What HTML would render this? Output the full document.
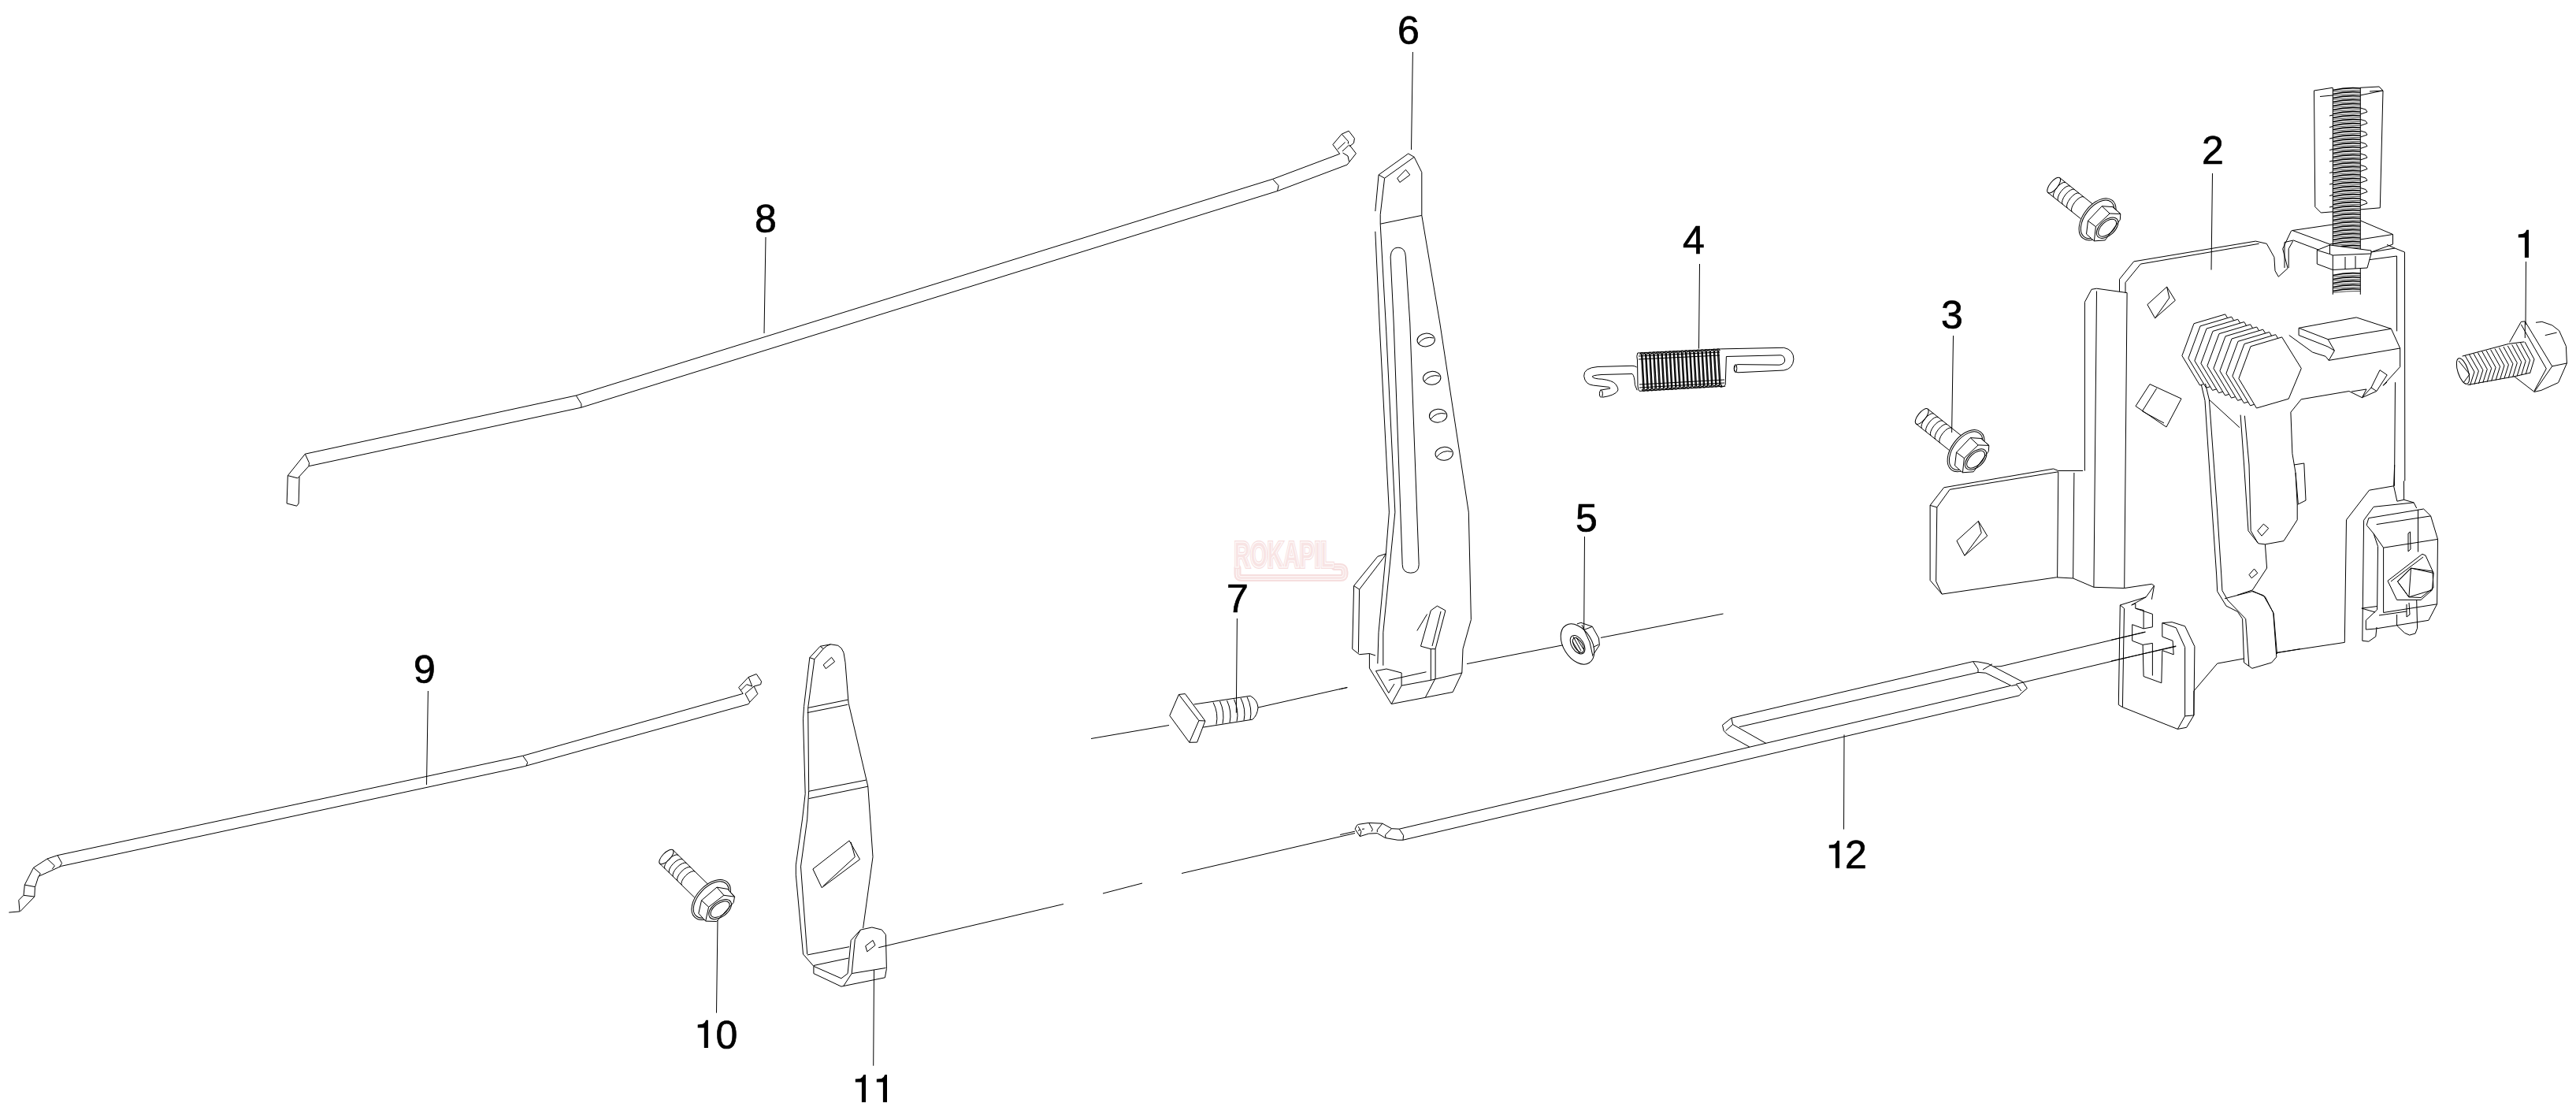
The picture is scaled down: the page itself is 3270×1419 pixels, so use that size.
<!DOCTYPE html>
<html><head><meta charset="utf-8"><style>
html,body{margin:0;padding:0;background:#fff;width:3270px;height:1419px;overflow:hidden}
svg{display:block}
</style></head><body>
<svg width="3270" height="1419" viewBox="0 0 3270 1419">
<g id="wm">
<path d="M1571,721 L1571,729 Q1571,733.5 1576,733.5 L1702,733.5 Q1707,733.5 1707,728.5 L1707,726 Q1707,719.5 1701,719.5 L1694,719.5" fill="none" stroke="#f6dede" stroke-width="9" stroke-linecap="round" stroke-linejoin="round"/>
<path d="M1571,721 L1571,729 Q1571,733.5 1576,733.5 L1702,733.5 Q1707,733.5 1707,728.5 L1707,726 Q1707,719.5 1701,719.5 L1694,719.5" fill="none" stroke="#fff" stroke-width="4.5" stroke-linecap="round" stroke-linejoin="round"/>
<path d="M1571,721 L1571,729 Q1571,733.5 1576,733.5 L1702,733.5 Q1707,733.5 1707,728.5 L1707,726 Q1707,719.5 1701,719.5 L1694,719.5" fill="none" stroke="#f8e6e6" stroke-width="3" stroke-linecap="round" stroke-linejoin="round"/>
<text x="1566.5" y="720" font-family="Liberation Sans" font-weight="bold" font-size="46" textLength="127" lengthAdjust="spacingAndGlyphs" fill="#f8e4e4" stroke="#f6dede" stroke-width="4" paint-order="stroke">ROKAPIL</text>
<text x="1566.5" y="720" font-family="Liberation Sans" font-weight="bold" font-size="46" textLength="127" lengthAdjust="spacingAndGlyphs" fill="#f8e4e4" stroke="#fff" stroke-width="1.2">ROKAPIL</text>
</g>
<g id="labels" font-family="Liberation Sans" font-size="50" fill="#000" stroke="#000" stroke-width="0.7">
<path stroke="none" d="M3196.8,297.5 L3203,296.8 Q3206.5,295 3207.3,291.8 L3210,291.8 L3210,327 L3204.9,327 L3204.9,301.5 L3196.8,301.5 Z"/>
<text x="2795" y="208">2</text>
<text x="2464" y="416.5">3</text>
<text x="2136" y="322">4</text>
<text x="2000" y="675">5</text>
<text x="1774" y="55.5">6</text>
<text x="1557" y="777">7</text>
<text x="958" y="295">8</text>
<text x="525" y="867">9</text>
<path stroke="none" d="M885.7,1300.4 L891.9,1299.7 Q895.4,1297.9 896.2,1294.7 L898.9,1294.7 L898.9,1329.9 L893.8,1329.9 L893.8,1304.4 L885.7,1304.4 Z"/>
<text x="908.4" y="1331">0</text>
<path stroke="none" d="M1085.8,1369.6 L1092,1368.9 Q1095.5,1367.1 1096.3,1363.9 L1099,1363.9 L1099,1399.1 L1093.9,1399.1 L1093.9,1373.6 L1085.8,1373.6 Z"/>
<path stroke="none" d="M1112.8,1369.6 L1119,1368.9 Q1122.5,1367.1 1123.3,1363.9 L1126,1363.9 L1126,1399.1 L1120.9,1399.1 L1120.9,1373.6 L1112.8,1373.6 Z"/>
<path stroke="none" d="M2321.8,1072.6 L2328,1071.9 Q2331.5,1070.1 2332.3,1066.9 L2335,1066.9 L2335,1101.7 L2329.9,1101.7 L2329.9,1076.6 L2321.8,1076.6 Z"/>
<text x="2342" y="1102">2</text>
</g>
<g id="leaders" stroke="#000" stroke-width="1" fill="none">
<path d="M3206.5,332 L3206,412.5 M2808.5,220 L2807,342.5 M2479.5,426 L2477.6,549 M2157.5,335 L2156.5,442.5 M2011.5,681 L2010.7,798.8 M1793.4,66 L1791.5,190 M1570.4,785 L1569.3,904.7 M972,301 L970,423 M543.4,877 L541.5,996 M911,1167.5 L909.5,1285.6 M1109.5,1231 L1108.7,1352.7 M2341,932.5 L2340.5,1052.6"/>
</g>
<g id="parts" stroke="#000" stroke-width="1" fill="none" stroke-linejoin="round">
<!-- rod 8 -->
<path d="M365.3,603.6 L387.3,576.2 L731.3,502 L1615.6,227.3 L1700.7,195.3"/>
<path d="M380,604.7 L391.9,591.7 L737.9,517.2 L1621.5,242.5 L1710.1,209.1"/>
<path d="M387.3,576.2 L392.5,587.6 L391.9,591.7 M731.3,502 L737.9,512.6 L737.9,517.2 M1615.6,227.3 L1623,235.6 L1621.5,242.5"/>
<path d="M365.3,603.6 L364.1,639 L376.7,642.2 L379.1,639 L380,604.7 M365.3,603.6 L377.8,606.9 L380,604.7"/>
<path d="M1700.7,195.3 L1691.9,183.5 L1703.2,170.2 L1712.1,166.2 L1719.4,175.6 L1718.5,181.5 L1713,186 M1703.2,170.2 L1711.6,179.5 L1711.3,182.5 M1713,184 L1721.4,194.8 L1710.1,209.1 M1698,189.5 L1707.5,180.5 M1704,192 L1712.5,184 M1704.5,194 L1711,198 L1712.5,205"/>
<!-- rod 9 -->
<path d="M11.3,1158.1 L25,1156.9 L23.8,1142.5 L30,1136.3 L31.3,1123.1 L42.5,1101.3 L60,1090 L73.1,1085.6 L663.7,959.3 L943.2,880.4"/>
<path d="M25.6,1156.9 L43.8,1138.1 L44.4,1126.3 L48.8,1112.5 L51.3,1111.3 L77.5,1099.4 L665.2,972.8 L950.2,893.6"/>
<path d="M73.1,1085.6 L78.5,1095.6 L75.6,1100.6 M60,1090 L69.4,1098.8 L66.3,1103.1 M42.5,1101.3 L51.3,1108.8 L49.5,1112 M31.3,1123.1 L44.4,1125.6 M30,1136.3 L43.8,1138.1 M663.7,959.3 L669.6,967.6 L668.3,972"/>
<path d="M943.2,880.4 L937.7,872.6 L950.2,859.4 L960.2,855.5 L966.5,864.8 L965.7,868.7 L957.1,871.1 L961.8,880.7 L951.7,891.2 L950.2,893.6 M950.2,859.4 L954.8,871.1 M940.5,876 L947.8,868.7 L954.8,871.1 M946,880.4 L957.1,871.1 M946,880.4 L951.7,891.2"/>
<!-- part 11 -->
<path d="M1041.1,820.3 L1054.5,817.8 M1027.8,834.7 L1041.1,820.3 L1045.2,823.4 L1033.9,836.7 Z M1045.2,823.4 Q1050,818.5 1054.5,817.8 L1063.8,819.3 Q1069,822 1071,828.5 L1073,840.8 L1077.1,892.3 L1101.8,998.2 L1108,1087.6 L1095.6,1178.1"/>
<path d="M1027.8,834.7 L1020.6,896.4 L1019.5,912.8 L1022.2,1007.4 L1018.5,1039.9 L1010.3,1097.9 L1010.3,1110.2 L1019.5,1211"/>
<path d="M1033.9,836.7 L1025.7,898.4 L1026.7,1003.3 L1024.7,1039.9 L1016.5,1099.9 L1024.7,1211"/>
<path d="M1025.7,898.4 L1076.5,888.1 M1024.7,904.6 L1076.1,894.3 M1026.7,1004.3 L1099.7,990 M1026.7,1013.6 L1101.8,998.2"/>
<path d="M1045.2,843.9 L1055.5,834.3 L1059.6,839.8 L1048.3,848.7 Z"/>
<path d="M1031.9,1103 L1078.1,1067 L1091.5,1090.7 L1043.2,1126.7 Z M1080.2,1069 L1085.3,1087.6 L1044.5,1125"/>
<path d="M1019.5,1211 L1032.9,1226.4 L1032.9,1235.6 L1067.9,1252.1 L1123.4,1240.8 L1125.4,1229.5 L1124.4,1186.3 L1119.3,1180.1 L1106.9,1177 L1092.5,1180.1 L1080.2,1193.5 L1076.1,1235.6 L1067.9,1241.8 L1032.9,1226.4"/>
<path d="M1024.7,1212 L1078.1,1201.7 M1032.9,1225.5 L1077.1,1216.1 M1092.5,1180.1 L1085.3,1192.5 L1081.2,1235.6 L1071,1251.1 M1081.2,1235.6 L1124.4,1228.5"/>
<path d="M1098.7,1200.7 L1108,1193.5 L1111,1199.7 L1100.8,1207.9 Z"/>
<!-- center dash lines -->
<path d="M1115.2,1202.7 L1350,1147.5 M1400,1134 L1450,1121 M1500,1108.5 L1720,1057.5"/>

<ellipse cx="902.7" cy="1142" rx="30.4" ry="18.3" transform="rotate(-46.8 902.7 1142)"/>
<ellipse cx="902.7" cy="1142" rx="28" ry="16" transform="rotate(-46.8 902.7 1142)"/>
<path d="M854.3,1078.9 L898.4,1122 M837.5,1096.1 L881.6,1139.1"/>
<ellipse cx="845.9" cy="1087.5" rx="12" ry="5" transform="rotate(-45.7 845.9 1087.5)"/>
<path d="M844.2,1102.7 A12,5 -45.7 0 1 861,1085.5 M849.7,1108 A12,5 -45.7 0 1 866.4,1090.8 M854.7,1112.9 A12,5 -45.7 0 1 871.5,1095.7 M860.1,1118.1 A12,5 -45.7 0 1 876.8,1100.9 M865.4,1123.3 A12,5 -45.7 0 1 882.2,1106.2"/>
<path fill="#fff" d="M890.5,1142.8 L910,1126.1 L923.6,1128.4 L932.5,1138.2 L931.2,1145.5 L909.6,1169.5 L895.7,1169.1 L886.8,1159.3 Z"/>
<path d="M910,1126.1 L918.9,1136.3 M923.6,1128.4 L932.5,1138.2 M890.5,1142.8 L899.6,1151.2 L918.9,1136.3 L932.5,1138.2"/><path d="M899.6,1151.2 L895.7,1169.1"/>
<ellipse cx="914.1" cy="1154.1" rx="16.5" ry="9.5" transform="rotate(-37.2 914.1 1154.1)"/>
<ellipse cx="914.1" cy="1154.1" rx="14" ry="7.5" transform="rotate(-37.2 914.1 1154.1)"/>
<ellipse cx="2662.6" cy="278.3" rx="30.4" ry="18.3" transform="rotate(-52.6 2662.6 278.3)"/>
<ellipse cx="2662.6" cy="278.3" rx="28" ry="16" transform="rotate(-52.6 2662.6 278.3)"/>
<path d="M2614.7,225.7 L2656.2,258.8 M2599.7,244.5 L2641.3,277.6"/>
<ellipse cx="2607.2" cy="235.1" rx="12" ry="5" transform="rotate(-51.5 2607.2 235.1)"/>
<path d="M2607.1,250.3 A12,5 -51.5 0 1 2622,231.6 M2613,255.1 A12,5 -51.5 0 1 2628,236.3 M2618.5,259.4 A12,5 -51.5 0 1 2633.5,240.6 M2624.4,264.1 A12,5 -51.5 0 1 2639.3,245.3 M2630.3,268.8 A12,5 -51.5 0 1 2645.2,250"/>
<path fill="#fff" d="M2650.5,280.3 L2668.2,261.7 L2682,262.6 L2691.8,271.5 L2691.3,278.9 L2672.2,304.9 L2658.4,305.9 L2648.5,297.1 Z"/>
<path d="M2668.2,261.7 L2678.1,271 M2682,262.6 L2691.8,271.5 M2650.5,280.3 L2660.4,287.7 L2678.1,271 L2691.8,271.5"/><path d="M2660.4,287.7 L2658.4,305.9"/>
<ellipse cx="2675.1" cy="289.2" rx="16.5" ry="9.5" transform="rotate(-43 2675.1 289.2)"/>
<ellipse cx="2675.1" cy="289.2" rx="14" ry="7.5" transform="rotate(-43 2675.1 289.2)"/>
<ellipse cx="2495.6" cy="572.2" rx="30.4" ry="18.3" transform="rotate(-52.6 2495.6 572.2)"/>
<ellipse cx="2495.6" cy="572.2" rx="28" ry="16" transform="rotate(-52.6 2495.6 572.2)"/>
<path d="M2447.2,519.1 L2489.3,552.7 M2432.2,537.9 L2474.3,571.4"/>
<ellipse cx="2439.7" cy="528.5" rx="12" ry="5" transform="rotate(-51.5 2439.7 528.5)"/>
<path d="M2439.6,543.7 A12,5 -51.5 0 1 2454.5,525 M2445.5,548.5 A12,5 -51.5 0 1 2460.5,529.7 M2451,552.8 A12,5 -51.5 0 1 2465.9,534.1 M2456.9,557.5 A12,5 -51.5 0 1 2471.8,538.7 M2462.7,562.2 A12,5 -51.5 0 1 2477.7,543.4"/>
<path fill="#fff" d="M2483.5,574.2 L2501.2,555.6 L2515,556.5 L2524.8,565.4 L2524.3,572.8 L2505.2,598.8 L2491.4,599.8 L2481.5,591 Z"/>
<path d="M2501.2,555.6 L2511.1,564.9 M2515,556.5 L2524.8,565.4 M2483.5,574.2 L2493.4,581.6 L2511.1,564.9 L2524.8,565.4"/><path d="M2493.4,581.6 L2491.4,599.8"/>
<ellipse cx="2508.1" cy="583.1" rx="16.5" ry="9.5" transform="rotate(-43 2508.1 583.1)"/>
<ellipse cx="2508.1" cy="583.1" rx="14" ry="7.5" transform="rotate(-43 2508.1 583.1)"/>
<!-- bolt 7 -->
<path d="M1484.8,908.3 L1496.4,881.5 L1521.9,914.6 L1509.8,942.3 Z M1496.4,881.5 L1504.4,880.6 L1529.9,915 L1519.6,942.1 L1509.8,942.3 M1521.9,914.6 L1529.9,915"/>
<path d="M1515.6,894 L1587.2,883.3 M1527.2,923.1 L1589.9,913.2 M1587.2,883.3 Q1596,888 1597,898 Q1596,908 1589.9,913.2"/>
<path d="M1540,891.5 Q1547,905 1544,919.5 M1548.5,890 Q1555,904 1552,918.5 M1557.5,889 Q1564,903 1561,917 M1566.5,887.5 Q1573,902 1570,915.5 M1575,886 Q1582,900 1579,914.5 M1583,884.5 Q1590,899 1587,913.5"/>
<!-- lever 6 -->
<path d="M1750.1,221.9 L1787.7,195 L1795.2,199.3 L1757.6,226.2 Z M1795.2,199.3 L1804.8,218.7 L1804.8,273.4 L1827.8,410 L1864.3,650.1 L1867.4,786.5 L1857,823.7 L1855.8,854"/>
<path d="M1750.1,221.9 L1745.8,268.1 M1745.8,293.8 L1751.1,410 L1763.4,650.1 L1759.3,702.8 L1750,802.8 L1748.8,842.3"/>
<path d="M1757.6,226.2 L1752.2,272.4 L1752.2,284.2 L1759.7,420.1 L1770.9,650.1 L1755.8,802.8 L1755.8,844.7"/>
<path d="M1752.2,284.2 L1804.8,273.4"/>
<path d="M1765.1,326 Q1766,314.2 1774.8,314.2 Q1784,314.2 1784.4,326 L1789.8,410 L1801.2,716.7 Q1801,727.2 1790.7,727.2 Q1780.5,727 1780.2,716.7 L1769.2,410 Z"/>
<path d="M1773.7,226.2 L1784.4,215.4 L1789.8,221.9 L1776.9,231.5 Z"/>
<ellipse cx="1810.2" cy="431.5" rx="11.2" ry="8.4" transform="rotate(-5 1810.2 431.5)"/>
<ellipse cx="1817.7" cy="479.8" rx="11.2" ry="8.4" transform="rotate(-5 1817.7 479.8)"/>
<ellipse cx="1825.6" cy="527.7" rx="11.2" ry="8.4" transform="rotate(-5 1825.6 527.7)"/>
<ellipse cx="1833.2" cy="575.8" rx="11.2" ry="8.4" transform="rotate(-5 1833.2 575.8)"/>
<path d="M1800.5,436 Q1808,426 1820,429 M1808,484.3 Q1815.5,474.3 1827.5,477.3 M1816,532.2 Q1823.5,522.2 1835.5,525.2 M1823.5,580.3 Q1831,570.3 1843,573.3"/>
<path d="M1718.6,743.5 L1748.8,706.3 L1759.3,702.8 L1755.8,708.6 L1725.6,748.1 Z M1718.6,743.5 L1716.7,823.7 L1725.6,830.7 L1738.4,829.5 L1746,832 M1725.6,748.1 L1724.4,828.4"/>
<path d="M1738.4,829.5 L1738.4,848.1 L1766.3,893.5 L1779.1,870.2 L1779.1,854 M1746.5,851.6 L1762.8,879.5 L1770,868 M1746.5,851.6 L1760,849 L1779.1,854 M1779.1,870.2 L1816.3,863.3 L1855.8,854 L1844.2,878.4 L1809.3,885.3 L1766.3,893.5"/>
<path d="M1816.3,774.9 L1824.4,769.1 L1834.9,774.9 L1822.1,823.7 L1822.1,860.9 L1809.3,885.3 M1816.3,774.9 L1803.5,820.2 L1816.3,823.7 L1816.3,863.3 M1822.1,823.7 L1816.3,823.7 M1798.8,800.5 L1811.6,779.5 M1829,776 L1818,820"/>
<path d="M1700,874.9 L1710.5,872.6 M1762.8,863.3 L1810.5,852.8 M1862,842.6 L1984,818.8 M2032,809.4 L2187.5,779"/>
<path d="M1385,937.5 L1484,920.5 M1597,898 L1710,872.5"/>
<!-- nut 5 -->
<ellipse cx="2002.5" cy="817.5" rx="28" ry="18" transform="rotate(58 2002.5 817.5)"/>
<path d="M2001.9,791.9 L2006.9,790.3 L2021.3,795.3 L2029.5,810 L2030.4,818.8 L2022.6,830.7 M2010.7,799.4 L2021.3,795.3 M2022.6,821.3 L2029.5,818 M2008,793 L2018,815 L2022,833"/>
<ellipse cx="2002.6" cy="818.2" rx="13" ry="7.5" transform="rotate(58 2002.6 818.2)"/>
<ellipse cx="2003.5" cy="818.8" rx="10.5" ry="5.2" transform="rotate(58 2003.5 818.8)"/><path d="M1997,808 L2007,826 M2001,809 L2010,824 M1996,814 L2005,829"/>

<!-- spring 4 -->
<path d="M2078.8,448 L2184.6,442.9 M2081.1,496.4 L2190.2,490.2 M2078.8,448 Q2077,452 2078.5,457 L2079,490 Q2079.5,495 2081.1,496.4"/>
<path d="M2077.7,466 Q2075,464.3 2072,464.3 L2028.1,465.5 Q2010,467 2010.7,477.3 Q2012,488 2022.5,489.1 L2042.8,491.4 L2044,493 L2031,495.3"/>
<path d="M2072,474.5 L2033,475.5 Q2020,476.5 2021.4,478.4 Q2024,481 2033.8,481.2 Q2047,483 2050.7,487.4 Q2055,493 2053.5,496 Q2050,502 2033.8,504.3"/>
<ellipse cx="2032.4" cy="499.8" rx="2" ry="4.5"/>
<path d="M2072,474.5 Q2075,477 2075.4,488.5 L2078.2,495.3"/>
<path d="M2184.6,442.9 L2264.5,441.3 Q2277,444 2276.9,455.9 Q2276,468 2264.5,470 L2206,472.8 Q2201.5,472 2201.5,468.3 Q2202,463 2206,462.6 L2258.9,463.2 Q2265.7,462 2265.7,457 Q2265,451 2260,450.8 L2191.4,452.5 L2190.2,488.5 Q2189,491 2184,491.5"/>
<path stroke-width="1.2" d="M2083.4,448.9 L2086.0,495.2 M2084.8,449.4 L2087.3,494.7 M2081.6,449.9 Q2084.1,445.4 2086.6,449.9 M2084.2,494.2 Q2086.7,498.7 2089.2,494.2 M2088.5,448.6 L2091.1,494.9 M2089.8,449.1 L2092.4,494.4 M2086.7,449.6 Q2089.2,445.1 2091.7,449.6 M2089.2,493.9 Q2091.8,498.4 2094.2,493.9 M2093.6,448.4 L2096.2,494.6 M2094.9,448.9 L2097.5,494.1 M2091.8,449.4 Q2094.2,444.9 2096.8,449.4 M2094.3,493.6 Q2096.8,498.1 2099.3,493.6 M2098.7,448.1 L2101.2,494.3 M2100.0,448.6 L2102.6,493.8 M2096.8,449.1 Q2099.3,444.6 2101.8,449.1 M2099.4,493.3 Q2101.9,497.8 2104.4,493.3 M2103.8,447.9 L2106.3,494.0 M2105.1,448.4 L2107.7,493.5 M2101.9,448.9 Q2104.4,444.4 2106.9,448.9 M2104.5,493.0 Q2107.0,497.5 2109.5,493.0 M2108.9,447.6 L2111.5,493.7 M2110.2,448.1 L2112.8,493.2 M2107.1,448.6 Q2109.6,444.1 2112.1,448.6 M2109.7,492.7 Q2112.2,497.2 2114.7,492.7 M2114.0,447.3 L2116.6,493.4 M2115.3,447.8 L2117.9,492.9 M2112.2,448.3 Q2114.7,443.8 2117.2,448.3 M2114.8,492.4 Q2117.2,496.9 2119.8,492.4 M2119.1,447.1 L2121.7,493.1 M2120.4,447.6 L2123.0,492.6 M2117.2,448.1 Q2119.8,443.6 2122.2,448.1 M2119.8,492.1 Q2122.3,496.6 2124.8,492.1 M2124.2,446.8 L2126.8,492.8 M2125.5,447.3 L2128.1,492.3 M2122.3,447.8 Q2124.8,443.3 2127.3,447.8 M2124.9,491.8 Q2127.4,496.3 2129.9,491.8 M2129.2,446.6 L2131.8,492.5 M2130.6,447.1 L2133.2,492.0 M2127.4,447.6 Q2129.9,443.1 2132.4,447.6 M2130.0,491.5 Q2132.5,496.0 2135.0,491.5 M2134.4,446.3 L2137.0,492.1 M2135.8,446.8 L2138.3,491.6 M2132.6,447.3 Q2135.1,442.8 2137.6,447.3 M2135.2,491.1 Q2137.7,495.6 2140.2,491.1 M2139.5,446.1 L2142.1,491.8 M2140.8,446.6 L2143.4,491.3 M2137.7,447.1 Q2140.2,442.6 2142.7,447.1 M2140.2,490.8 Q2142.8,495.3 2145.2,490.8 M2144.6,445.8 L2147.2,491.5 M2145.9,446.3 L2148.5,491.0 M2142.8,446.8 Q2145.2,442.3 2147.8,446.8 M2145.3,490.5 Q2147.8,495.0 2150.3,490.5 M2149.7,445.6 L2152.2,491.2 M2151.0,446.1 L2153.6,490.7 M2147.8,446.6 Q2150.3,442.1 2152.8,446.6 M2150.4,490.2 Q2152.9,494.7 2155.4,490.2 M2154.8,445.3 L2157.3,490.9 M2156.1,445.8 L2158.7,490.4 M2152.9,446.3 Q2155.4,441.8 2157.9,446.3 M2155.5,489.9 Q2158.0,494.4 2160.5,489.9 M2159.9,445.0 L2162.5,490.6 M2161.2,445.5 L2163.8,490.1 M2158.1,446.0 Q2160.6,441.5 2163.1,446.0 M2160.7,489.6 Q2163.2,494.1 2165.7,489.6 M2165.0,444.8 L2167.6,490.3 M2166.3,445.3 L2168.9,489.8 M2163.2,445.8 Q2165.7,441.3 2168.2,445.8 M2165.8,489.3 Q2168.2,493.8 2170.8,489.3 M2170.1,444.5 L2172.7,490.0 M2171.4,445.0 L2174.0,489.5 M2168.2,445.5 Q2170.8,441.0 2173.2,445.5 M2170.8,489.0 Q2173.3,493.5 2175.8,489.0 M2175.2,444.3 L2177.8,489.7 M2176.5,444.8 L2179.1,489.2 M2173.3,445.3 Q2175.8,440.8 2178.3,445.3 M2175.9,488.7 Q2178.4,493.2 2180.9,488.7 M2180.2,444.0 L2182.8,489.4 M2181.6,444.5 L2184.2,488.9 M2178.4,445.0 Q2180.9,440.5 2183.4,445.0 M2181.0,488.4 Q2183.5,492.9 2186.0,488.4"/>
<path d="M2080,452 L2183,447 M2081,492 L2189,486 M2080,456 L2183,451 M2081,488 L2189,482"/>
<ellipse cx="2203" cy="467.6" rx="1.8" ry="5"/>

<!-- rod 12 -->
<path d="M1720.1,1052.2 L1722.5,1047.4 L1724.7,1046.3 L1737.6,1044.4 L1754.8,1045.2 L1766.6,1051.7 L1776.2,1052.2 L2180,957.8 L2551.8,870.5"/>
<path d="M1720.1,1052.2 L1726.3,1061.6 L1737.6,1058.1 L1748.3,1057.6 L1758.5,1063.5 L1774.1,1066.2 L1781,1066.2 L2237,959.4 L2563.2,882.8"/>
<path d="M1737.6,1044.4 L1742.4,1052.7 L1741,1055.5 M1754.8,1045.2 L1748.3,1053.3 L1748.3,1056 M1766.6,1051.7 L1758.5,1059.7 L1759,1063.5 M1776.2,1052.2 L1781.6,1060.3 L1781,1066.2 M1724.2,1049 L1727.9,1055.4 L1726.3,1061.6 M1724,1054.5 L1726.5,1053 M1729,1052.4 L1732,1052"/>
<path d="M1701.1,1059.5 L1719.9,1055.2"/>
<path d="M2197.9,911.3 L2504.5,839.6 L2511,840 L2524,842.5 M2207.7,922.7 L2511,853.4 L2520.8,854.2"/>
<path d="M2197.9,911.3 L2186.5,920.3 L2188.2,927.6 L2193,932.5 L2220.8,948 M2197.9,911.3 L2199.6,919.5 L2190.6,927.6 M2199.6,919.5 L2242,943.6"/>
<path d="M2504.5,839.6 L2511,849.3 L2511,853.4 M2524,842.5 L2530.6,846.1 L2568,865.7 L2573.3,873.6 L2565.8,880 L2563.2,882.8 M2517,850 L2528.9,842.8 M2520.8,854.2 L2553.4,870.5 L2560,869 L2565.8,877"/>
<path d="M2540,845.7 L2723.5,802.2 M2559.3,868.2 L2762.2,819.9 M2530.6,846.1 L2540,845.7"/>
<!-- bolt 1 -->
<path d="M3200.3,408.4 L3185.6,434.4 M3191.5,477.7 L3217.1,497.4 L3225.9,495.4 L3247.6,485.6 L3258.4,461 L3257.4,439.4 L3248.6,419.7 L3239.7,412.8 L3226.9,408.4 L3219,409.3 M3200.3,408.4 L3205.3,407.9"/>
<path d="M3205.3,407.9 L3239.7,464.9 L3217.1,497.4 M3200.3,411.8 L3232.3,467.9 L3217.1,496 M3239.7,464.9 L3258.4,461 M3230.8,425.6 L3245.6,422.1 M3205.3,408 L3205.3,429"/>
<path d="M3125.6,452.1 L3184.6,436.4 L3204.3,433.9 M3132.5,488.5 L3192.5,477.7 L3211.2,473.3"/>
<ellipse cx="3126.5" cy="471" rx="17" ry="6.5" transform="rotate(72 3126.5 471)"/>
<path d="M3121,458 L3135,475 L3127,486"/>
<path d="M3129.0,451.0 L3141.0,472.0 L3135.5,489.0 M3134.4,449.8 L3146.4,470.9 L3140.9,487.9 M3139.9,448.6 L3151.9,469.7 L3146.4,486.9 M3145.3,447.4 L3157.3,468.6 L3151.8,485.8 M3150.7,446.1 L3162.7,467.4 L3157.2,484.7 M3156.1,444.9 L3168.1,466.3 L3162.6,483.6 M3161.6,443.7 L3173.6,465.1 L3168.1,482.6 M3167.0,442.5 L3179.0,464.0 L3173.5,481.5 M3172.4,441.3 L3184.4,462.9 L3178.9,480.4 M3177.9,440.1 L3189.9,461.7 L3184.4,479.4 M3183.3,438.9 L3195.3,460.6 L3189.8,478.3 M3188.7,437.6 L3200.7,459.4 L3195.2,477.2 M3194.1,436.4 L3206.1,458.3 L3200.6,476.1 M3199.6,435.2 L3211.6,457.1 L3206.1,475.1 M3205.0,434.0 L3217.0,456.0 L3211.5,474.0"/>

<!-- part 2 plate -->
<path d="M2690.5,370 L2690.5,354.4 L2708.7,331.9 L2863.3,306.1 L2877.3,309.3 L2886.9,326.5 L2888,343.7 L2892.3,351.2 L2904.1,340.5 L2897.7,315.8 L2908.4,293.2 L2910,292.5"/>
<path d="M2698,372 L2698,358.7 L2717.3,335.1 L2867.6,309.3 M2905.2,315.8 L2905.2,340 M2910.6,306.1 L2905.2,315.8"/>
<path d="M2646.4,597.5 L2646.4,383.4 L2655,367.3 L2661.5,366.2 L2700.1,371.6 M2661.5,369.5 L2657.9,745.3 M2700.1,371.6 L2696.7,746.5"/>
<path d="M2644.1,597.5 L2612.8,597.5 L2606.6,595 L2467.6,618.8 L2450.1,641.4 L2450.1,736.5 L2465.1,754.1 L2610.3,732.8 L2631.6,734 L2657.9,745.3 L2696.7,746.5 L2731.4,741.3 L2734.5,743.4"/>
<path d="M2450.1,641.4 L2458.8,643.9 L2475.1,621.3 L2612.8,598.8 M2458.8,643.9 L2457.6,737.8 L2465.1,754.1 M2612.8,598.8 L2611.6,732.8 M2632.9,600 L2631.6,734"/>
<path d="M2483.9,686.4 L2511.4,661.4 L2522.7,680.2 L2493.9,705.2 Z M2511.4,661.4 L2515.2,676.4 L2493.9,705.2"/>
<path d="M2725.9,386.6 L2750.6,364.1 L2761.3,381.3 L2735.6,403.8 Z M2750.6,364.1 L2753.8,378 L2735.6,403.8"/>
<path d="M2711,515.5 L2729,487.6 L2769,506 L2750,542 Z M2737.7,492.9 L2719.4,521.9 L2747,537"/>
<!-- screw assembly -->
<path d="M2937.5,115 L2938.8,262.5 L2946.3,270 L3021.3,263.8 L3025,115 L3020,110 L2996,111.3 M2937.5,115 L2961,111.3 M2945,122.5 L2961,121 M2996,121 L3025,115 M3008,116 L3025,115"/>
<path d="M2910,292.5 L2961.3,285 M2996.3,280 L3037.5,297.5 L3037.5,310 M2910,292.5 L2957.5,310 L3037.5,297.5 M2957.5,310 L2957.5,322.5 M2900,307.5 L2911.3,305 L2957.5,322.5 M2900,307.5 L2900,340"/>
<path d="M3010,320 L3037.5,310"/>
<path d="M3010,320 L3040,315 L3052.5,320 L3052.8,610.4 M3005,330 L3042.5,325 L3042.6,420.4 M3040.5,485.2 L3039.5,616.8 M3030,310.5 L3040,315"/>
<rect x="2961.3" y="111.3" width="35" height="262.5" fill="#fff" stroke="none"/>
<path stroke-width="1.7" d="M2961.3,114.5 Q2978.8,110.5 2996.3,112.0 M2961.3,119.5 Q2978.8,115.5 2996.3,117.0 M2961.3,124.5 Q2978.8,120.5 2996.3,122.0 M2961.3,129.5 Q2978.8,125.5 2996.3,127.0 M2961.3,134.5 Q2978.8,130.5 2996.3,132.0 M2961.3,139.5 Q2978.8,135.5 2996.3,137.0 M2961.3,144.5 Q2978.8,140.5 2996.3,142.0 M2961.3,149.5 Q2978.8,145.5 2996.3,147.0 M2961.3,154.5 Q2978.8,150.5 2996.3,152.0 M2961.3,159.5 Q2978.8,155.5 2996.3,157.0 M2961.3,164.5 Q2978.8,160.5 2996.3,162.0 M2961.3,169.5 Q2978.8,165.5 2996.3,167.0 M2961.3,174.5 Q2978.8,170.5 2996.3,172.0 M2961.3,179.5 Q2978.8,175.5 2996.3,177.0 M2961.3,184.5 Q2978.8,180.5 2996.3,182.0 M2961.3,189.5 Q2978.8,185.5 2996.3,187.0 M2961.3,194.5 Q2978.8,190.5 2996.3,192.0 M2961.3,199.5 Q2978.8,195.5 2996.3,197.0 M2961.3,204.5 Q2978.8,200.5 2996.3,202.0 M2961.3,209.5 Q2978.8,205.5 2996.3,207.0 M2961.3,214.5 Q2978.8,210.5 2996.3,212.0 M2961.3,219.5 Q2978.8,215.5 2996.3,217.0 M2961.3,224.5 Q2978.8,220.5 2996.3,222.0 M2961.3,229.5 Q2978.8,225.5 2996.3,227.0 M2961.3,234.5 Q2978.8,230.5 2996.3,232.0 M2961.3,239.5 Q2978.8,235.5 2996.3,237.0 M2961.3,244.5 Q2978.8,240.5 2996.3,242.0 M2961.3,249.5 Q2978.8,245.5 2996.3,247.0 M2961.3,254.5 Q2978.8,250.5 2996.3,252.0 M2961.3,259.5 Q2978.8,255.5 2996.3,257.0 M2961.3,264.5 Q2978.8,260.5 2996.3,262.0 M2961.3,269.5 Q2978.8,265.5 2996.3,267.0 M2961.3,274.5 Q2978.8,270.5 2996.3,272.0 M2961.3,279.5 Q2978.8,275.5 2996.3,277.0 M2961.3,284.5 Q2978.8,280.5 2996.3,282.0 M2961.3,289.5 Q2978.8,285.5 2996.3,287.0 M2961.3,294.5 Q2978.8,290.5 2996.3,292.0 M2961.3,299.5 Q2978.8,295.5 2996.3,297.0 M2961.3,304.5 Q2978.8,300.5 2996.3,302.0 M2961.3,309.5 Q2978.8,305.5 2996.3,307.0 M2961.3,314.5 Q2978.8,310.5 2996.3,312.0 M2961.3,319.5 Q2978.8,315.5 2996.3,317.0 M2961.3,324.5 Q2978.8,320.5 2996.3,322.0 M2961.3,329.5 Q2978.8,325.5 2996.3,327.0 M2961.3,334.5 Q2978.8,330.5 2996.3,332.0 M2961.3,339.5 Q2978.8,335.5 2996.3,337.0 M2961.3,349.5 Q2978.8,345.5 2996.3,347.0 M2961.3,354.5 Q2978.8,350.5 2996.3,352.0 M2961.3,359.5 Q2978.8,355.5 2996.3,357.0 M2961.3,364.5 Q2978.8,360.5 2996.3,362.0 M2961.3,369.5 Q2978.8,365.5 2996.3,367.0"/><path stroke-width="0.7" d="M2961.3,116.4 Q2978.8,114.4 2996.3,114.4 M2961.3,121.4 Q2978.8,119.4 2996.3,119.4 M2961.3,126.4 Q2978.8,124.4 2996.3,124.4 M2961.3,131.4 Q2978.8,129.4 2996.3,129.4 M2961.3,136.4 Q2978.8,134.4 2996.3,134.4 M2961.3,141.4 Q2978.8,139.4 2996.3,139.4 M2961.3,146.4 Q2978.8,144.4 2996.3,144.4 M2961.3,151.4 Q2978.8,149.4 2996.3,149.4 M2961.3,156.4 Q2978.8,154.4 2996.3,154.4 M2961.3,161.4 Q2978.8,159.4 2996.3,159.4 M2961.3,166.4 Q2978.8,164.4 2996.3,164.4 M2961.3,171.4 Q2978.8,169.4 2996.3,169.4 M2961.3,176.4 Q2978.8,174.4 2996.3,174.4 M2961.3,181.4 Q2978.8,179.4 2996.3,179.4 M2961.3,186.4 Q2978.8,184.4 2996.3,184.4 M2961.3,191.4 Q2978.8,189.4 2996.3,189.4 M2961.3,196.4 Q2978.8,194.4 2996.3,194.4 M2961.3,201.4 Q2978.8,199.4 2996.3,199.4 M2961.3,206.4 Q2978.8,204.4 2996.3,204.4 M2961.3,211.4 Q2978.8,209.4 2996.3,209.4 M2961.3,216.4 Q2978.8,214.4 2996.3,214.4 M2961.3,221.4 Q2978.8,219.4 2996.3,219.4 M2961.3,226.4 Q2978.8,224.4 2996.3,224.4 M2961.3,231.4 Q2978.8,229.4 2996.3,229.4 M2961.3,236.4 Q2978.8,234.4 2996.3,234.4 M2961.3,241.4 Q2978.8,239.4 2996.3,239.4 M2961.3,246.4 Q2978.8,244.4 2996.3,244.4 M2961.3,251.4 Q2978.8,249.4 2996.3,249.4 M2961.3,256.4 Q2978.8,254.4 2996.3,254.4 M2961.3,261.4 Q2978.8,259.4 2996.3,259.4 M2961.3,266.4 Q2978.8,264.4 2996.3,264.4 M2961.3,271.4 Q2978.8,269.4 2996.3,269.4 M2961.3,276.4 Q2978.8,274.4 2996.3,274.4 M2961.3,281.4 Q2978.8,279.4 2996.3,279.4 M2961.3,286.4 Q2978.8,284.4 2996.3,284.4 M2961.3,291.4 Q2978.8,289.4 2996.3,289.4 M2961.3,296.4 Q2978.8,294.4 2996.3,294.4 M2961.3,301.4 Q2978.8,299.4 2996.3,299.4 M2961.3,306.4 Q2978.8,304.4 2996.3,304.4 M2961.3,311.4 Q2978.8,309.4 2996.3,309.4 M2961.3,316.4 Q2978.8,314.4 2996.3,314.4 M2961.3,321.4 Q2978.8,319.4 2996.3,319.4 M2961.3,326.4 Q2978.8,324.4 2996.3,324.4 M2961.3,331.4 Q2978.8,329.4 2996.3,329.4 M2961.3,336.4 Q2978.8,334.4 2996.3,334.4 M2961.3,341.4 Q2978.8,339.4 2996.3,339.4 M2961.3,351.4 Q2978.8,349.4 2996.3,349.4 M2961.3,356.4 Q2978.8,354.4 2996.3,354.4 M2961.3,361.4 Q2978.8,359.4 2996.3,359.4 M2961.3,366.4 Q2978.8,364.4 2996.3,364.4 M2961.3,371.4 Q2978.8,369.4 2996.3,369.4"/>
<path d="M2961.3,111.3 L2961.3,373.8 M2996.3,111.3 L2996.3,373.8"/>
<path d="M2996.3,137.0 L3003,139.0 L3005,142.0 L2996.3,145.0 M2957,147.0 L2961.3,146.0 M2996.3,151.5 L3003,153.5 L3005,156.5 L2996.3,159.5 M2957,161.5 L2961.3,160.5 M2996.3,166.0 L3003,168.0 L3005,171.0 L2996.3,174.0 M2957,176.0 L2961.3,175.0 M2996.3,180.5 L3003,182.5 L3005,185.5 L2996.3,188.5 M2957,190.5 L2961.3,189.5 M2996.3,195.0 L3003,197.0 L3005,200.0 L2996.3,203.0 M2957,205.0 L2961.3,204.0 M2996.3,209.5 L3003,211.5 L3005,214.5 L2996.3,217.5 M2957,219.5 L2961.3,218.5 M2996.3,224.0 L3003,226.0 L3005,229.0 L2996.3,232.0 M2957,234.0 L2961.3,233.0 M2996.3,238.5 L3003,240.5 L3005,243.5 L2996.3,246.5 M2957,248.5 L2961.3,247.5 M2996.3,253.0 L3003,255.0 L3005,258.0 L2996.3,261.0 M2957,263.0 L2961.3,262.0"/>
<!-- big bolt stack -->
<path fill="#fff" d="M2769.9,451.5 L2785.0,410.7 L2824.7,398.9 L2849.3,438.6 L2833.2,477.2 L2792.5,489.0 Z"/>
<path fill="#fff" d="M2777.9,454.7 L2793.0,413.9 L2832.7,402.1 L2857.3,441.8 L2841.2,480.4 L2800.5,492.2 Z"/>
<path fill="#fff" d="M2785.9,457.9 L2801.0,417.1 L2840.7,405.3 L2865.3,445.0 L2849.2,483.6 L2808.5,495.4 Z"/>
<path fill="#fff" d="M2793.9,461.2 L2809.0,420.4 L2848.7,408.6 L2873.3,448.3 L2857.2,486.9 L2816.5,498.7 Z"/>
<path fill="#fff" d="M2801.9,464.4 L2817.0,423.6 L2856.7,411.8 L2881.3,451.5 L2865.2,490.1 L2824.5,501.9 Z"/>
<path fill="#fff" d="M2809.9,467.6 L2825.0,426.8 L2864.7,415.0 L2889.3,454.7 L2873.2,493.3 L2832.5,505.1 Z"/>
<path fill="#fff" d="M2817.9,470.8 L2833.0,430.0 L2872.7,418.2 L2897.3,457.9 L2881.2,496.5 L2840.5,508.3 Z"/>
<path fill="#fff" d="M2825.9,474.1 L2841.0,433.3 L2880.7,421.5 L2905.3,461.2 L2889.2,499.8 L2848.5,511.6 Z"/>
<path fill="#fff" d="M2833.9,477.3 L2849.0,436.5 L2888.7,424.7 L2913.3,464.4 L2897.2,503.0 L2856.5,514.8 Z"/>
<path fill="#fff" d="M2841.9,480.5 L2857.0,439.7 L2896.7,427.9 L2921.3,467.6 L2905.2,506.2 L2864.5,518.0 Z"/>
<path d="M2794.5,489 L2799,508.4 M2799.5,487 L2804.4,507.3"/>
<!-- arm -->
<path d="M2799,508.4 L2807.6,639.9 L2813.7,730 L2814.7,750.6 L2826,769.1 L2840.4,776.3 L2846.6,785.5 L2848.6,841 L2858.9,848.3 L2883.6,841 L2889.8,833.9 L2885.7,777.3 L2873.3,755.7 L2858.9,750.6 L2824,759.8"/>
<path d="M2804.4,507.3 L2814,639.9 L2819.8,730 L2820.9,749.5 L2828,762 L2850.7,785.5 L2854.8,845.2"/>
<path d="M2804.4,507.3 L2843,542.7"/>
<path d="M2844.1,526.6 L2848.6,590 L2854,673.7 L2866.8,689.8 L2875.4,690.9 L2899,686.6 L2916.2,659.8 L2916.2,640.5 L2927,635.1 L2924.8,588 L2911.9,590 M2849.4,527.7 L2855,590 L2857.2,673.7 L2866,689 M2907.9,523.2 L2909.9,575.7 L2914,600 L2916.2,640.5 M2914,600 L2917.3,639.4"/>
<path d="M2865.8,673.7 L2873.3,665.1 L2879.7,670.5 L2871.1,680.2 Z M2855,729.5 L2861.5,722 L2865.8,727.4 L2858.2,733.8 Z"/>
<path d="M2875.4,690.9 L2877.6,721 L2859.3,748.9 L2840,755.3 M2859.3,749.9 L2875.4,757.5 L2886.2,778.9 L2890.5,830"/>
<path d="M2905.8,425.5 L2935.6,447.1 L2952.1,452.3 L2956.2,457.4 L3046.7,442 L3046.7,465.6 L3025.1,489.3 M3016.9,496.5 L2998.4,504.7 L2981.9,496.5 L2921.2,506.8 L2907.9,523.2"/>
<path d="M2918.1,416.3 L2991.2,402.9 L3035.4,417.3 L3046.7,442 M2918.1,416.3 L2918.1,425.5 L2955,440 L2963.4,445.1 L2956.2,457.4 M2918.1,416.3 L2955.2,430.7 L2963.4,445.1 M2955.2,430.7 L3035.4,417.3"/>
<path d="M3021,469.7 L3030.2,475.9 L3016.9,496.5 L3010,492 L3021,469.7 M3010,492 L2998.4,504.7 M2985,497 L3004,494 L2998.4,504.7 M3025.1,489.3 L3030.2,485"/>
<!-- plate bottom right -->
<path d="M3039.7,590 L3038.6,616.8 L3007.5,622.2 L2978.5,659.8 L2976.3,815.4 L2890.5,828.3 M3038.6,616.8 L3042.9,636.2 L3051.6,634.3 L3064.1,637.9 L3067.7,645 M3051.5,610.4 L3051.6,634.3"/>
<path d="M2848.6,835.9 L2814.7,842.1 L2784.9,877"/>
<path d="M2889.8,828.7 L2920,823.6"/>
<!-- right clamp -->
<path d="M3013.1,643.3 L3064.1,637.9 M3013.1,643.3 L3000.6,660.3 L2998.8,813.3 L3006.8,814.2 L3015.8,807.9"/>
<path d="M3006.8,657.6 L3076.6,646 L3085.6,654.9 L3094.5,684.4 L3093.6,766.8 L3082.9,787.3 L3014.9,798.1 M3006.8,657.6 L3004.2,666.5 L3013.1,677.3 L3018.5,693.4 L3017.6,773.9 L3003.3,787.3 L3003.3,799 L3014.9,798.1"/>
<path d="M3016.7,665.6 L3085.6,654.9 M3025.6,695.2 L3094.5,684.4 M3013.1,677.3 L3025.6,695.2 L3025.6,777.5 L3093.6,766.8 M2997.9,772.1 L3017.6,769.5 M2997.9,772.1 L3015,777 M3020,781 L3055,776 M3015.8,807.9 L3017,796"/>
<path d="M3069.5,646.8 L3069.5,700.5 M3067.7,761.4 L3068.6,797.2 L3066,804 L3058.7,806.1 L3052.5,803.4 L3042.6,794 L3042.6,780 M3057,677 L3057,700 L3060,697 L3059.5,675 Z M3055,767 L3055,783 L3059,780 L3058,765"/>
<path d="M3031,737.2 L3074.9,703.2 L3079,705 L3089.2,727.4 L3087.4,748.9 L3073.1,761.4 L3042.6,761.4 Z M3035,738 L3076,707 M3043.5,738.1 L3060.5,721.1 L3089.2,727.4 M3043.5,738.1 L3057.9,757.8 L3087.4,748.9 M3060.5,721.1 L3057.9,757.8"/>
<path d="M3043.5,738.1 L3060.5,721.1 L3088,725 L3089,746 L3073.1,758.5 L3057.9,757.8 Z"/>
<!-- lower bracket -->
<path d="M2734.5,743.4 L2724.2,757.8 L2691.3,768 L2689.3,894.5 M2731.4,760.8 L2734.5,743.4 M2724.2,757.8 L2705.7,768 L2710.8,766 L2710.8,772.2 L2732.4,779.4 L2732.4,795.8 L2721.1,797.9 L2706.7,792.7 L2706.7,813.3 L2720.1,818.4 L2721.1,858.5 L2743.8,866.8 L2744.8,825.6 L2759.2,830.8 L2758.1,813.3 L2744.8,808.1 L2744.8,790.7 L2762.3,796.8 L2773.6,821.5 L2773.6,908.9"/>
<path d="M2696.5,772.2 L2694.4,897.6 L2764.3,925.4 L2775.6,923.3 L2784.9,907.9 L2785.9,820.5 L2773.6,794.8 L2757.1,789.6 L2744.8,790.7 M2773.6,908.9 L2764.3,925.4 M2773.6,908.9 L2784.9,907.9 M2689.3,894.5 L2694.4,897.6 M2691.3,768 L2696.5,772.2 M2732.4,816.4 L2732.4,857.5 M2710.8,772.2 L2721.1,774.5 L2721.1,797.9 M2720.1,818.4 L2732.4,816.4"/>
<path d="M2680,812.3 L2723.2,802 M2680,839 L2762.3,820.5"/>
<path d="M2784.9,877 L2784.9,907.9"/>
<path fill="#fff" d="M2941.3,317.5 L2957.5,311 L3010,318 L3010,322 L3005,340 L2961.3,342.5 L2941.3,335 Z"/>
<path d="M2957.5,311 L2957.5,322.5 L2941.3,317.5 M2957.5,322.5 L2961.3,324 L3010,322 M2961.3,324 L2961.3,342.5 M2977,326 L2977,342 M2990,325 L2990,341"/>

</g>
</svg>
</body></html>
